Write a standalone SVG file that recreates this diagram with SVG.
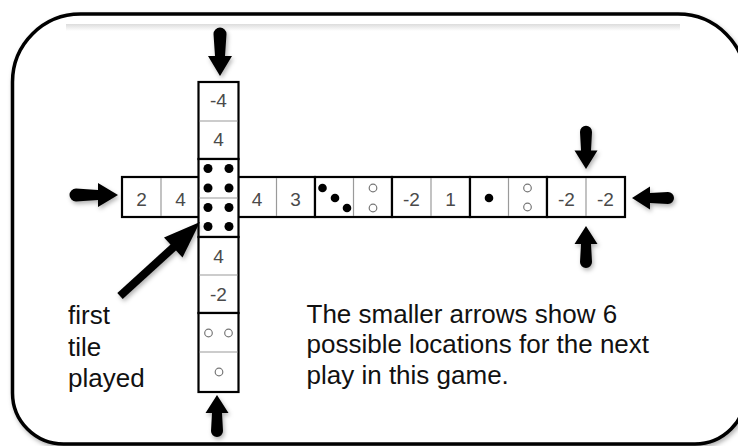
<svg xmlns="http://www.w3.org/2000/svg" width="738" height="446" viewBox="0 0 738 446">
<style>
.tile{fill:#fff;stroke:#000;stroke-width:2.2}
.div{stroke:#9a9a9a;stroke-width:1.2}
.num{font-family:"Liberation Sans",Arial,sans-serif;font-size:19px;fill:#4a4a4a;text-anchor:middle}
.lbl{font-family:"Liberation Sans",Arial,sans-serif;font-size:26px;fill:#111}
.pip{fill:#000}
.hol{fill:none;stroke:#777;stroke-width:1.2}
.arr{fill:#000}
</style>
<defs>
<filter id="sh" x="-20%" y="-20%" width="140%" height="140%">
<feDropShadow dx="1.5" dy="2.5" stdDeviation="2" flood-color="#000" flood-opacity="0.3"/>
</filter>
<linearGradient id="band" x1="0" y1="0" x2="0" y2="1">
<stop offset="0" stop-color="#dcdcdc"/>
<stop offset="1" stop-color="#fff"/>
</linearGradient>
<path id="arrowL" d="M0,0 L-12,-20 L-5,-20 L-6.5,-42 A6.5 6.5 0 0 1 6.5,-42 L5,-20 L12,-20 Z"/>
<path id="arrowS" d="M0,0 L-11.5,-18 L-5,-18 L-6,-36 A6 6 0 0 1 6,-36 L5,-18 L11.5,-18 Z"/>
</defs>
<rect width="738" height="446" fill="#fff"/>
<g id="frame">
<path d="M80.5,14 H678 A68 68 0 0 1 746 82 V393 A51 51 0 0 1 695 444 H63.5 A51 51 0 0 1 12.5 393 V82 A68 68 0 0 1 80.5 14 Z" fill="#fff" stroke="#000" stroke-width="3.5" filter="url(#sh)"/>
<rect x="66" y="24" width="614" height="7" fill="url(#band)"/>
</g>
<g id="tile-h1">
<rect class="tile" x="122" y="177" width="78" height="40"/>
<line class="div" x1="161" y1="178" x2="161" y2="216"/>
<text class="num" x="141.5" y="206">2</text>
<text class="num" x="180.5" y="206">4</text>
</g>
<g id="tile-h2">
<rect class="tile" x="238" y="177" width="77" height="40"/>
<line class="div" x1="276.5" y1="178" x2="276.5" y2="216"/>
<text class="num" x="257" y="206">4</text>
<text class="num" x="295.5" y="206">3</text>
</g>
<g id="tile-h3">
<rect class="tile" x="315" y="177" width="77" height="40"/>
<line class="div" x1="353.5" y1="178" x2="353.5" y2="216"/>
<circle class="pip" cx="322.5" cy="188" r="4.3"/>
<circle class="pip" cx="335" cy="198" r="4.3"/>
<circle class="pip" cx="347" cy="208" r="4.3"/>
<circle class="hol" cx="373" cy="188" r="3.8"/>
<circle class="hol" cx="373" cy="208" r="3.8"/>
</g>
<g id="tile-h4">
<rect class="tile" x="392" y="177" width="78" height="40"/>
<line class="div" x1="431" y1="178" x2="431" y2="216"/>
<text class="num" x="411.5" y="206">-2</text>
<text class="num" x="450.5" y="206">1</text>
</g>
<g id="tile-h5">
<rect class="tile" x="470" y="177" width="77" height="40"/>
<line class="div" x1="508.5" y1="178" x2="508.5" y2="216"/>
<circle class="pip" cx="489" cy="198" r="4.3"/>
<circle class="hol" cx="527.5" cy="188" r="3.8"/>
<circle class="hol" cx="527.5" cy="207" r="3.8"/>
</g>
<g id="tile-h6">
<rect class="tile" x="547" y="177" width="78" height="40"/>
<line class="div" x1="586" y1="178" x2="586" y2="216"/>
<text class="num" x="566.5" y="206">-2</text>
<text class="num" x="605.5" y="206">-2</text>
</g>
<g id="tile-v1">
<rect class="tile" x="198.5" y="82" width="40" height="77"/>
<line class="div" x1="199.5" y1="121" x2="237.5" y2="121"/>
<text class="num" x="218.5" y="107">-4</text>
<text class="num" x="218.5" y="146">4</text>
</g>
<g id="tile-v2">
<rect class="tile" x="198.5" y="159" width="40" height="78"/>
<line class="div" x1="199.5" y1="198" x2="237.5" y2="198"/>
<circle class="pip" cx="208" cy="168.5" r="4.5"/>
<circle class="pip" cx="229" cy="168.5" r="4.5"/>
<circle class="pip" cx="208" cy="188" r="4.5"/>
<circle class="pip" cx="229" cy="188" r="4.5"/>
<circle class="pip" cx="208" cy="207.5" r="4.5"/>
<circle class="pip" cx="229" cy="207.5" r="4.5"/>
<circle class="pip" cx="208" cy="226.5" r="4.5"/>
<circle class="pip" cx="229" cy="226.5" r="4.5"/>
</g>
<g id="tile-v3">
<rect class="tile" x="198.5" y="237" width="40" height="76"/>
<line class="div" x1="199.5" y1="275" x2="237.5" y2="275"/>
<text class="num" x="218.5" y="262.5">4</text>
<text class="num" x="218.5" y="300.5">-2</text>
</g>
<g id="tile-v4">
<rect class="tile" x="198.5" y="313" width="40" height="79"/>
<line class="div" x1="199.5" y1="352" x2="237.5" y2="352"/>
<circle class="hol" cx="208.5" cy="333" r="3.8"/>
<circle class="hol" cx="228.5" cy="333" r="3.8"/>
<circle class="hol" cx="219" cy="372" r="3.8"/>
</g>
<g id="labels">
<text class="lbl" x="68" y="324">first</text>
<text class="lbl" x="68" y="355.5">tile</text>
<text class="lbl" x="68" y="387">played</text>
<text class="lbl" x="306.5" y="323">The smaller arrows show 6</text>
<text class="lbl" x="306.5" y="353">possible locations for the next</text>
<text class="lbl" x="306.5" y="384">play in this game.</text>
</g>
<g id="connectors" class="arr" filter="url(#sh)">
<use href="#arrowL" transform="translate(220,76)"/>
<use href="#arrowL" transform="translate(118,195) rotate(-90)"/>
<use href="#arrowS" transform="translate(632,198) rotate(90)"/>
<use href="#arrowS" transform="translate(586,169) scale(1,1.03)"/>
<use href="#arrowS" transform="translate(586,226) rotate(180)"/>
<use href="#arrowS" transform="translate(217,395) rotate(180)"/>
<line x1="120" y1="296" x2="176" y2="245" stroke="#000" stroke-width="8"/>
<polygon points="200,222 182.5,257.5 164,237.5"/>
</g>
</svg>
